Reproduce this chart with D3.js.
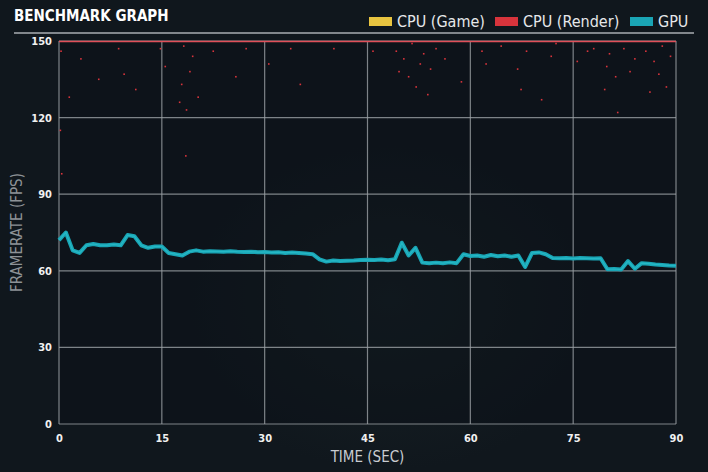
<!DOCTYPE html><html><head><meta charset="utf-8">
<script src="https://cdn.jsdelivr.net/npm/d3@7"></script>
<style>body{margin:0;background:#10161c}svg{display:block}</style></head><body>
<svg id="c" width="708" height="472"></svg>
<script>
const seriesNames=["CPU (Game)","CPU (Render)","GPU"];
const seriesColors=["#e8c440","#d8343c","#1aa5b5"];
const yTicks=[0,30,60,90,120,150];
const xTicks=[0,15,30,45,60,75,90];
const gpuTime=d3.range(0,91);
const gpuFps=[72,75,68,67,70,70.5,70,70,70.3,70,74,73.5,70,69,69.5,69.5,67,66.5,66,67.5,68,67.5,67.7,67.6,67.5,67.7,67.5,67.4,67.5,67.3,67.4,67.2,67.3,67,67.2,67,66.8,66.5,64.5,63.6,64,63.8,63.9,64,64.2,64.3,64.2,64.4,64.1,64.5,71,66,69,63.2,63,63.2,63,63.3,63,66.5,65.8,66,65.5,66.2,65.7,66,65.5,66,61.5,67,67.2,66.5,65,64.9,65,64.8,65,64.9,64.8,64.9,60.6,60.7,60.5,63.8,60.8,63,62.8,62.5,62.3,62.1,62];
const renderT=[0.3,1.5,3.2,5.8,8.7,9.5,11.2,14.8,15.5,17.6,17.9,18.2,18.6,19.1,19.5,20.3,22.5,25.8,27.3,30.6,33.8,35.2,40.1,45.8,49.2,49.6,50.3,51.0,51.5,52.1,52.7,53.2,53.8,54.2,55.0,56.3,58.7,61.7,62.3,64.5,66.9,67.4,68.2,70.4,71.8,72.5,75.6,77.1,78.0,79.6,79.9,80.3,81.2,81.5,82.4,83.3,84.0,85.6,86.2,86.8,87.5,88.0,88.6,89.2,0.2,0.4,18.5];
const renderFps=[146,128,143,135,147,137,131,147,140,126,133,148,123,138,144,128,146,136,147,141,147,133,147,146,146,138,143,136,149,132,141,145,129,139,147,143,134,146,141,148,139,131,146,127,144,149,142,146,147,131,140,145,136,122,147,138,143,146,130,142,137,148,132,144,115,98,105];
const W=708,H=472,m={l:59,r:676,t:41,b:424};
const svg=d3.select("#c");
svg.append("rect").attr("width",W).attr("height",H).attr("fill","#10171d");
const g0=svg.append("radialGradient").attr("id","gl");
g0.append("stop").attr("offset","0").attr("stop-color","#1d2a2c");g0.append("stop").attr("offset","1").attr("stop-color","#10171d");
svg.append("ellipse").attr("cx",390).attr("cy",300).attr("rx",220).attr("ry",170).attr("fill","url(#gl)").attr("opacity",0.6);
svg.append("rect").attr("x",m.l).attr("y",m.t).attr("width",m.r-m.l).attr("height",m.b-m.t).attr("fill","#0b1117").attr("opacity",0.55);
const x=d3.scaleLinear().domain([0,90]).range([m.l,m.r]);
const y=d3.scaleLinear().domain([0,150]).range([m.b,m.t]);
const font="'DejaVu Sans Condensed','Liberation Sans Narrow',sans-serif";
svg.append("g").selectAll("line").data(xTicks).join("line").attr("x1",d=>x(d)).attr("x2",d=>x(d)).attr("y1",m.t).attr("y2",m.b).attr("stroke","#9aa0a4").attr("stroke-width",1.2).attr("opacity",0.8);
svg.append("g").selectAll("line").data(yTicks).join("line").attr("y1",d=>y(d)).attr("y2",d=>y(d)).attr("x1",m.l).attr("x2",m.r).attr("stroke","#9aa0a4").attr("stroke-width",1.2).attr("opacity",0.8);
const ax=svg.append("g").attr("transform",`translate(0,${m.b})`).call(d3.axisBottom(x).tickValues(xTicks).tickSize(0).tickPadding(10));
ax.select(".domain").remove();
ax.selectAll("text").attr("fill","#f0f0f0").attr("font-family",font).attr("font-weight","bold").attr("font-size",11);
const ay=svg.append("g").attr("transform",`translate(${m.l},0)`).call(d3.axisLeft(y).tickValues(yTicks).tickSize(0).tickPadding(7));
ay.select(".domain").remove();
ay.selectAll("text").attr("fill","#f0f0f0").attr("font-family",font).attr("font-weight","bold").attr("font-size",11);
svg.append("text").attr("x",(m.l+m.r)/2).attr("y",462).attr("text-anchor","middle").attr("fill","#c8ccd0").attr("font-family",font).attr("font-size",15).text("TIME (SEC)");
svg.append("text").attr("transform",`translate(22,${(m.t+m.b)/2}) rotate(-90)`).attr("text-anchor","middle").attr("fill","#8d9296").attr("font-family",font).attr("font-size",15).text("FRAMERATE (FPS)");
svg.append("line").attr("x1",m.l).attr("x2",m.r).attr("y1",y(150)+0.5).attr("y2",y(150)+0.5).attr("stroke","#e0505a").attr("stroke-width",1.5);
svg.append("g").selectAll("rect").data(renderT).join("rect").attr("x",(d)=>x(d)-0.8).attr("y",(d,i)=>y(renderFps[i])-0.8).attr("width",1.6).attr("height",1.6).attr("fill","#d8343c");
const line=d3.line().x((d,i)=>x(gpuTime[i])).y(d=>y(d));
svg.append("path").datum(gpuFps).attr("d",line).attr("fill","none").attr("stroke","#1aa5b5").attr("stroke-width",4).attr("stroke-linejoin","round");
svg.append("path").datum(gpuFps).attr("d",line).attr("fill","none").attr("stroke","#2bc0cc").attr("stroke-width",1.2).attr("opacity",0.7);
svg.append("text").attr("x",14).attr("y",21).attr("fill","#ffffff").attr("font-family",font).attr("font-weight","bold").attr("font-size",15).text("BENCHMARK GRAPH");
svg.append("line").attr("x1",14).attr("x2",694).attr("y1",33).attr("y2",33).attr("stroke","#a8aeb2").attr("stroke-width",1.5);
const lx=[369,495,630];
seriesNames.forEach((n,i)=>{
 svg.append("rect").attr("x",lx[i]).attr("y",17).attr("width",23).attr("height",9).attr("fill",seriesColors[i]);
 svg.append("text").attr("x",lx[i]+28).attr("y",27).attr("fill","#e6e8ea").attr("font-family",font).attr("font-size",16).text(n);
});
</script></body></html>
